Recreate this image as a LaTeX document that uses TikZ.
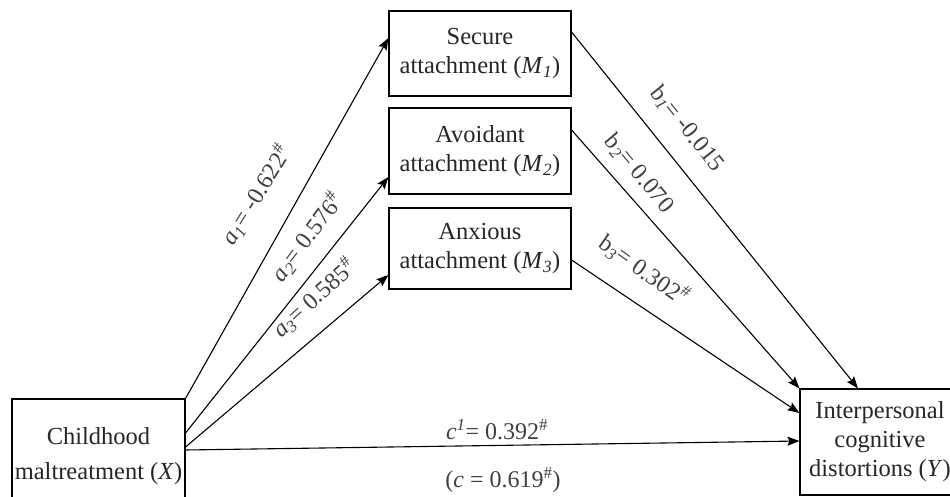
\documentclass[tikz,border=0pt]{standalone}
\usepackage{fontspec}
\setmainfont{Liberation Serif}
\usetikzlibrary{arrows.meta}
\begin{document}
\begin{tikzpicture}[x=1pt,y=-1pt,
  box/.style={draw, line width=1.1pt, align=center, inner sep=0pt, text=black!85,
    font=\fontsize{24.5}{29}\selectfont},
  arr/.style={line width=1.1pt, -{Stealth[length=12pt,width=9pt,inset=2pt]}},
  lbl/.style={font=\fontsize{24}{28}\selectfont, text=black!75, inner sep=0pt}]
\useasboundingbox (0,0) rectangle (950,497);
\clip (0,0) rectangle (950,497);
% boxes
\node[box, minimum width=182pt, minimum height=85pt] (M1) at (480,53.5)
  {Secure\\attachment (\textit{M}\textsubscript{\textit{1}})};
\node[box, minimum width=182pt, minimum height=86pt] (M2) at (480,151)
  {Avoidant\\attachment (\textit{M}\textsubscript{\textit{2}})};
\node[box, minimum width=182pt, minimum height=81pt] (M3) at (480,248.5)
  {Anxious\\attachment (\textit{M}\textsubscript{\textit{3}})};
\node[box, minimum width=173pt, minimum height=114pt] (X) at (98.5,456)
  {Childhood\\[6pt]maltreatment (\textit{X})};
\node[box, minimum width=160pt, minimum height=106pt] (Y) at (880,442)
  {Interpersonal\\cognitive\\distortions (\textit{Y})};
% connectors
\draw[arr] (X.north east) -- ([yshift=15.5pt]M1.west);
\draw[arr] ([yshift=23pt]X.east) -- ([yshift=-26pt]M2.west);
\draw[arr] ([yshift=9pt]X.east) -- ([yshift=-26.5pt]M3.west);
\draw[arr] ([yshift=6pt]X.east) -- ([yshift=1pt]Y.west);
\draw[arr] ([yshift=21.5pt]M1.east) -- ([xshift=-22pt]Y.north);
\draw[arr] ([yshift=21pt]M2.east) -- (Y.north west);
\draw[arr] ([yshift=-11.5pt]M3.east) -- ([yshift=29pt]Y.west);
% labels
\node[lbl, rotate=58] (la1) at (256,195) {\textit{a}\textsubscript{\textit{1}}= -0.622\textsuperscript{\#}};
\node[lbl, rotate=53] (la2) at (307,237) {\textit{a}\textsubscript{\textit{2}}= 0.576\textsuperscript{\#}};
\node[lbl, rotate=42] (la3) at (314,298) {\textit{a}\textsubscript{\textit{3}}= 0.585\textsuperscript{\#}};
\node[lbl, rotate=-51] (lb1) at (687,129) {b\textsubscript{\textit{1}}= -0.015};
\node[lbl, rotate=-50] (lb2) at (639,174) {b\textsubscript{\textit{2}}= 0.070};
\node[lbl, rotate=-35] (lb3) at (644,270) {b\textsubscript{\textit{3}}= 0.302\textsuperscript{\#}};
\node[lbl] (lc1) at (497,430) {\textit{c}\textsuperscript{\textit{1}}= 0.392\textsuperscript{\#}};
\node[lbl] (lc) at (503,480) {(\textit{c} = 0.619\textsuperscript{\#})};
\end{tikzpicture}
\end{document}
